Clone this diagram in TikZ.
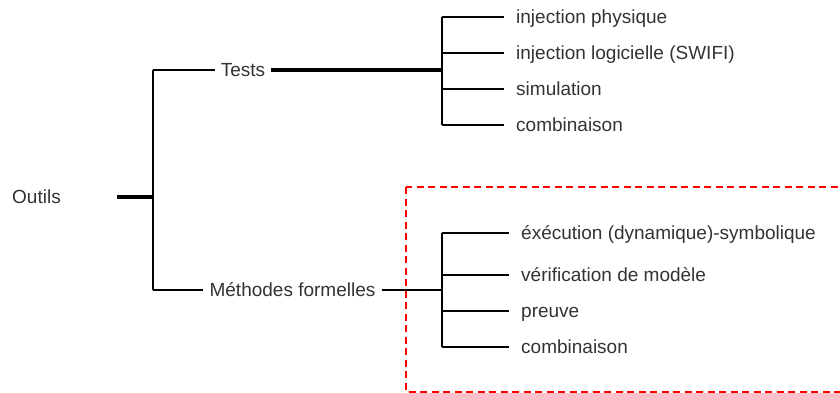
\documentclass[tikz,border=0pt]{standalone}
\usepackage{fontspec}
\setmainfont{Liberation Sans}
\usepackage{tikz}
\usetikzlibrary{calc, positioning}
\usepackage{tkz-base, tkz-euclide}
\definecolor{txtgray}{HTML}{333333}
\definecolor{boxred}{HTML}{FF0000}
\tikzset{
  label text/.style={text=txtgray, font=\fontsize{19}{22}\selectfont,
    text height=13.6pt, text depth=0pt, inner ysep=0pt},
  midnode/.style={label text, inner xsep=6pt},
  leaf/.style={label text, anchor=west, inner xsep=12pt},
  thin line/.style={line width=2.1pt, draw=black},
  thick line/.style={line width=3.3pt, draw=black},
  red frame/.style={draw=boxred, line width=2pt, dash pattern=on 7pt off 4.5pt}
}

\begin{document}
\begin{tikzpicture}[x=1pt, y=-1pt, >=latex]
\clip (0,0) rectangle (840,392);
\draw[red frame] (406,187) rectangle (860,391.5);

\tkzDefPoints{117/197/S, 153/197/O, 153/70/T, 153/290/M}
\tkzDefPoints{442/70/TJ, 442/17/T_1, 442/53/T_2, 442/89/T_3, 442/125/T_4}
\tkzDefPoints{442/290/MJ, 442/233/M_1, 442/275/M_2, 442/311/M_3, 442/347/M_4}

\node[label text, anchor=west, inner xsep=0pt] (outils) at (12,197) {Outils};
\node[midnode] (tests) at (243,70) {Tests};
\node[midnode] (methodes) at (292.5,290) {Méthodes formelles};

\node[leaf] (t1) at (504,17) {injection physique};
\node[leaf] (t2) at (504,53) {injection logicielle (SWIFI)};
\node[leaf] (t3) at (504,89) {simulation};
\node[leaf] (t4) at (504,125) {combinaison};

\node[leaf] (m1) at (509,233) {éxécution (dynamique)-symbolique};
\node[leaf] (m2) at (509,275) {vérification de modèle};
\node[leaf] (m3) at (509,311) {preuve};
\node[leaf] (m4) at (509,347) {combinaison};

\draw[thick line] (S) -- (O);
\draw[thick line] (tests.east) -- (TJ);
\draw[thin line] (T) -- (M);
\draw[thin line] (T) -- (tests.west);
\draw[thin line] (M) -- (methodes.west);
\draw[thin line] (methodes.east) -- (MJ);

\draw[thin line] (T_1) -- (T_4);
\draw[thin line] (T_1) -- (t1.west);
\draw[thin line] (T_2) -- (t2.west);
\draw[thin line] (T_3) -- (t3.west);
\draw[thin line] (T_4) -- (t4.west);

\draw[thin line] (M_1) -- (M_4);
\draw[thin line] (M_1) -- (m1.west);
\draw[thin line] (M_2) -- (m2.west);
\draw[thin line] (M_3) -- (m3.west);
\draw[thin line] (M_4) -- (m4.west);
\end{tikzpicture}
\end{document}
